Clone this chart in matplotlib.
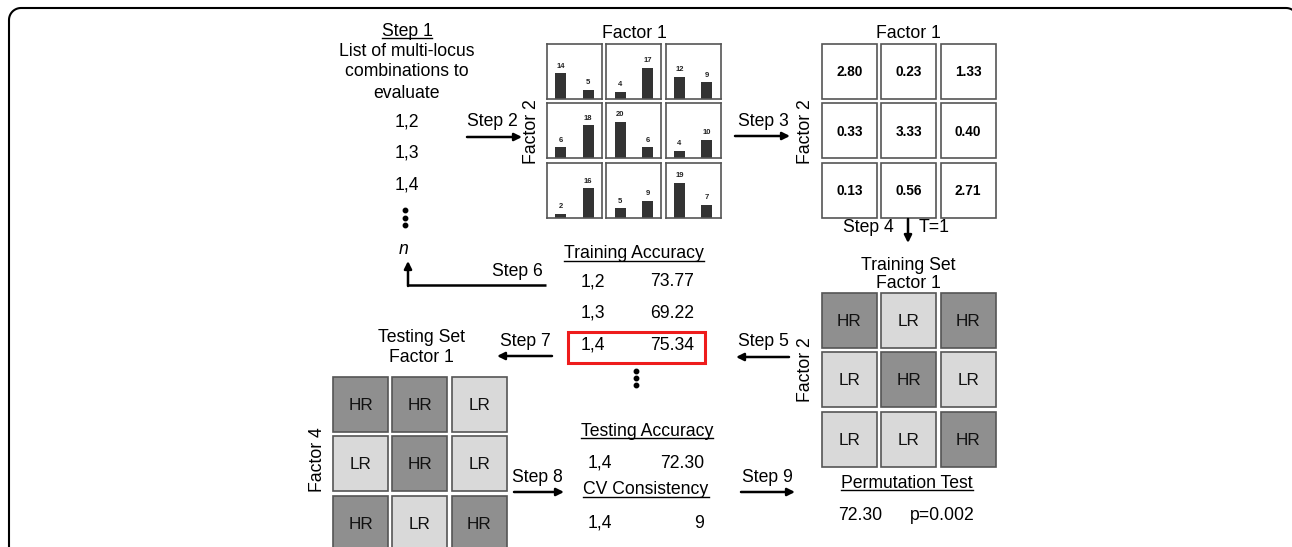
import numpy as np
import matplotlib
matplotlib.use('Agg')
import matplotlib.pyplot as plt
from matplotlib.patches import Rectangle

plt.rcParams['font.family'] = ['Liberation Sans', 'DejaVu Sans']

# Step 2: counts per genotype cell (left bar / right bar), factor 2 rows x factor 1 cols
left_counts = [[14, 4, 12], [6, 20, 4], [2, 5, 19]]
right_counts = [[5, 17, 9], [18, 6, 10], [16, 9, 7]]
# Step 3: ratio per cell
ratios = [[2.80, 0.23, 1.33], [0.33, 3.33, 0.40], [0.13, 0.56, 2.71]]
# Step 4 / testing set risk labels
train_risk = [['HR', 'LR', 'HR'], ['LR', 'HR', 'LR'], ['LR', 'LR', 'HR']]
test_risk = [['HR', 'HR', 'LR'], ['LR', 'HR', 'LR'], ['HR', 'LR', 'HR']]
# Steps 1 / 5
combos = ['1,2', '1,3', '1,4']
train_acc = [73.77, 69.22, 75.34]
best_combo = '1,4'
test_acc = 72.30
cv_consistency = 9
perm_acc = 72.30
perm_p = 0.002

W, H = 1292, 547
FS = 12.7
HR_COL, LR_COL, EDGE = '#8f8f8f', '#d9d9d9', '#555555'
CELL, STEP = 55, 59.3

fig = plt.figure(figsize=(W / 100, H / 100), dpi=100)
ax = fig.add_axes([0, 0, 1, 1])
ax.set_xlim(0, W)
ax.set_ylim(H, 0)
ax.axis('off')

# outer rounded frame, open at the bottom (it runs off the picture)
rad, fl, ft, fr = 12, 9, 8, 1298
t = np.linspace(0, np.pi / 2, 20)
fx = np.concatenate([[fl], fl + rad - rad * np.cos(t), fr - rad + rad * np.sin(t), [fr]])
fy = np.concatenate([[560], ft + rad - rad * np.sin(t), ft + rad - rad * np.cos(t), [560]])
ax.plot(fx, fy, color='black', lw=1.5)

underlines = []


def txt(x, y, s, size=FS, under=None, **kw):
    t = ax.text(x, y, s, fontsize=size, ha=kw.pop('ha', 'center'), va=kw.pop('va', 'center'), **kw)
    if under is not None:
        underlines.append((t, under))
    return t


def arrow(x0, y0, x1, y1):
    ax.annotate('', xy=(x1, y1), xytext=(x0, y0),
                arrowprops=dict(arrowstyle='-|>', color='black', lw=1.8,
                                mutation_scale=11, shrinkA=0, shrinkB=0))


def risk_grid(x0, y0, labels):
    for i, row in enumerate(labels):
        for j, lab in enumerate(row):
            x, y = x0 + j * STEP, y0 + i * STEP
            ax.add_patch(Rectangle((x, y), CELL, CELL, fc=HR_COL if lab == 'HR' else LR_COL,
                                   ec=EDGE, lw=1.2))
            txt(x + CELL / 2, y + CELL / 2 + 1, lab, size=12.3, color='#111111')


# ---- Step 1 ----
txt(407, 32, 'Step 1', under=38)
txt(407, 51, 'List of multi-locus')
txt(407, 72, 'combinations to')
txt(407, 93, 'evaluate')
for k, c in enumerate(combos):
    txt(407, 122 + k * 31.5, c)
for yy in (210, 217.5, 225):
    ax.plot(405, yy, 'o', color='black', ms=3.2)
txt(404, 250, 'n', style='italic')

# ---- Step 2 ----
txt(492, 122, 'Step 2')
arrow(467, 137, 522, 137)
txt(531, 132, 'Factor 2', rotation=90)
txt(634, 33, 'Factor 1')
for i in range(3):
    for j in range(3):
        x, y = 547 + j * STEP, 44 + i * STEP
        cax = fig.add_axes([x / W, 1 - (y + CELL) / H, CELL / W, CELL / H])
        vals = [left_counts[i][j], right_counts[i][j]]
        cax.bar([0, 1], vals, width=0.4, color='#333333')
        for k, v in enumerate(vals):
            cax.text(k, v + 2.0, str(v), ha='center', va='bottom', fontsize=5.5, fontweight='bold',
                     color='#222222')
        cax.set_xlim(-0.5, 1.5)
        cax.set_ylim(0, 30)
        cax.set_xticks([])
        cax.set_yticks([])
        for sp in cax.spines.values():
            sp.set_color(EDGE)
            sp.set_linewidth(1.2)

# ---- Step 3 ----
txt(763, 122, 'Step 3')
arrow(735, 136, 790, 136)
txt(805, 132, 'Factor 2', rotation=90)
txt(908, 33, 'Factor 1')
for i in range(3):
    for j in range(3):
        x, y = 822 + j * STEP, 44 + i * STEP
        ax.add_patch(Rectangle((x, y), CELL, CELL, fc='white', ec=EDGE, lw=1.2))
        txt(x + CELL / 2, y + CELL / 2 + 1, '%.2f' % ratios[i][j], size=9.8, fontweight='bold')

# ---- Step 4 ----
txt(868, 228, 'Step 4')
arrow(908, 219, 908, 243)
txt(934, 228, 'T=1')
txt(908, 265, 'Training Set')
txt(908, 283, 'Factor 1')
txt(805, 370, 'Factor 2', rotation=90)
risk_grid(822, 293, train_risk)

# ---- Step 5 ----
txt(763, 342, 'Step 5')
arrow(789, 357, 736, 357)
txt(634, 253, 'Training Accuracy', under=261)
for k, (c, a) in enumerate(zip(combos, train_acc)):
    y = 282 + k * 31.5
    txt(593, y, c)
    txt(672, y, '%.2f' % a)
ax.add_patch(Rectangle((568, 332), 137, 31, fc='none', ec='#ee1c1c', lw=2.2))
for yy in (371, 378, 385):
    ax.plot(636, yy, 'o', color='black', ms=3.2)

# ---- Step 6 ----
txt(543, 271, 'Step 6', ha='right')
ax.plot([546, 408], [285, 285], color='black', lw=1.8, solid_capstyle='butt')
arrow(408, 286, 408, 261)

# ---- Step 7 ----
txt(525, 341, 'Step 7')
arrow(552, 356, 497, 356)
txt(421, 337, 'Testing Set')
txt(421, 358, 'Factor 1')
txt(317, 460, 'Factor 4', rotation=90)
risk_grid(333, 377, test_risk)

# ---- Step 8 ----
txt(537, 477, 'Step 8')
arrow(514, 492, 564, 492)
txt(647, 431, 'Testing Accuracy', under=438)
txt(600, 463, best_combo)
txt(682, 463, '%.2f' % test_acc)
txt(646, 490, 'CV Consistency', under=497)
txt(600, 523, best_combo)
txt(699, 523, str(cv_consistency))

# ---- Step 9 ----
txt(767, 477, 'Step 9')
arrow(741, 492, 795, 492)
txt(907, 483, 'Permutation Test', under=490)
txt(860, 515, '%.2f' % perm_acc)
txt(942, 515, 'p=%.3f' % perm_p)

# underlines sized to the rendered text
fig.canvas.draw()
r = fig.canvas.get_renderer()
inv = ax.transData.inverted()
for tx, yline in underlines:
    bb = tx.get_window_extent(r).transformed(inv)
    ax.plot([bb.x0, bb.x1], [yline, yline], color='black', lw=1.0)

fig.savefig('out.png', dpi=100)
